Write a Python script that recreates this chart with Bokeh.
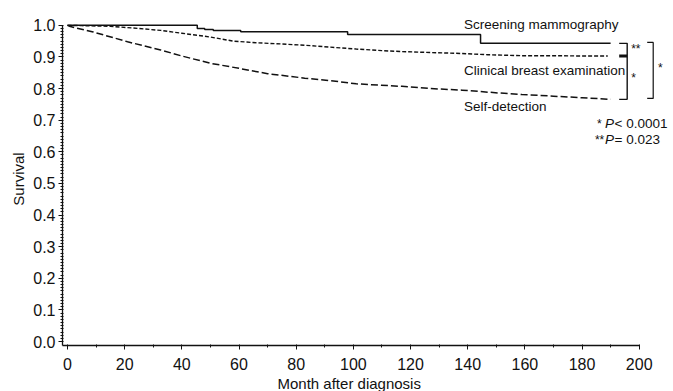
from bokeh.plotting import figure
from bokeh.models import Range1d, FixedTicker, PrintfTickFormatter, Label, Title
from bokeh.embed import file_html
from bokeh.resources import INLINE

# ---- data ----
months_screening = [0, 45.4, 48, 51, 60.6, 98, 144.5, 190]
surv_screening = [1.0, 0.99, 0.987, 0.984, 0.98, 0.971, 0.943, 0.943]

months_clinical = [0, 5, 15, 25, 32.6, 40, 50, 58, 66, 75, 83, 92, 101, 110, 117,
                   127, 138, 147, 159, 170, 180, 189]
surv_clinical = [1.0, 0.999, 0.997, 0.99, 0.984, 0.975, 0.963, 0.95, 0.945, 0.941,
                 0.937, 0.931, 0.925, 0.92, 0.917, 0.914, 0.911, 0.907, 0.904, 0.904,
                 0.903, 0.903]

months_self = [0, 1, 9, 21, 32.6, 40, 50, 60, 70, 83, 92, 101, 117, 127, 138, 151,
               159, 170, 180, 190]
surv_self = [1.0, 0.996, 0.979, 0.948, 0.922, 0.903, 0.880, 0.864, 0.847, 0.833,
             0.825, 0.815, 0.807, 0.800, 0.795, 0.786, 0.781, 0.776, 0.771, 0.766]

group_labels = ["Screening mammography", "Clinical breast examination", "Self-detection"]
x_ticks = list(range(0, 201, 20))
x_minor = list(range(0, 201, 10))
y_ticks = [round(i * 0.1, 1) for i in range(11)]
y_minor = [round(i * 0.01, 2) for i in range(101)]
pvalue_marks = ["*", "**"]
pvalue_texts = ["< 0.0001", "= 0.023"]
x_title = "Month after diagnosis"
y_title = "Survival"

FONT = "Liberation Sans"
INK = "#111111"

X0, X1 = -1.75, 212.0
Y0, Y1 = -0.0125, 1.0406
p = figure(width=673, height=391, output_backend="svg", toolbar_location=None,
           x_range=Range1d(X0, X1), y_range=Range1d(Y0, Y1),
           min_border_left=62, min_border_right=0, min_border_top=12,
           min_border_bottom=42)
p.outline_line_color = None
p.grid.visible = False
p.background_fill_color = "white"
p.border_fill_color = "white"

# curves
p.step(months_screening, surv_screening, mode="after", line_color=INK, line_width=1.5)
p.line(months_clinical, surv_clinical, line_color=INK, line_width=1.4, line_dash="4 2")
p.line(months_self, surv_self, line_color=INK, line_width=1.5, line_dash="7 3")

# brackets
top = surv_screening[-1]
mid = surv_clinical[-1]
bot = surv_self[-1]
p.line([193, 195.8, 195.8, 193], [top, top, bot, bot], line_color=INK, line_width=1.4)
p.segment(x0=[193], y0=[mid], x1=[195.8], y1=[mid], line_color=INK, line_width=3)
p.line([202.8, 204.9, 204.9, 202.8], [top + 0.003, top + 0.003, bot + 0.003, bot + 0.003],
       line_color=INK, line_width=1.2)

def lab(x, y, t, size="13.5px", style="normal", align="left"):
    p.add_layout(Label(x=x, y=y, text=t, text_font=FONT, text_font_size=size,
                       text_font_style=style, text_color=INK,
                       text_baseline="middle", text_align=align))

lab(138.7, 1.003, group_labels[0])
lab(138.7, 0.856, group_labels[1])
lab(138.7, 0.744, group_labels[2])

lab(197.2, 0.926, "**", size="12px")
lab(197.2, 0.832, "*", size="12px")
lab(206.6, 0.864, "*", size="12px")

lab(185.2, 0.688, pvalue_marks[0], size="12px")
lab(184.5, 0.636, pvalue_marks[1], size="12px")
lab(188.0, 0.69, "P", style="italic")
lab(188.0, 0.6375, "P", style="italic")
lab(191.4, 0.69, pvalue_texts[0])
lab(191.4, 0.6375, pvalue_texts[1])

# x-axis title, placed below the axis and shifted to match the reference
p.add_layout(Title(text=x_title, align="left", offset=215, standoff=0,
                   text_font=FONT, text_font_size="15px", text_font_style="normal",
                   text_color=INK), "below")

# axes
xa = p.xaxis[0]
xa.ticker = FixedTicker(ticks=x_ticks, minor_ticks=x_minor)
xa.bounds = (X0, 200)
ya = p.yaxis[0]
ya.ticker = FixedTicker(ticks=y_ticks, minor_ticks=y_minor)
ya.formatter = PrintfTickFormatter(format="%.1f")
ya.bounds = (Y0, 1.0)
ya.axis_label = y_title

for ax in (xa, ya):
    ax.axis_line_color = INK
    ax.axis_line_width = 1.3
    ax.major_tick_line_color = INK
    ax.minor_tick_line_color = INK
    ax.major_tick_out = 4
    ax.major_tick_in = 0
    ax.minor_tick_out = 2
    ax.minor_tick_in = 1
    ax.major_label_text_font = FONT
    ax.major_label_text_font_size = "16px"
    ax.major_label_text_color = INK
    ax.axis_label_text_font = FONT
    ax.axis_label_text_font_size = "15px"
    ax.axis_label_text_font_style = "normal"
    ax.axis_label_text_color = INK

xa.major_label_standoff = 8
ya.major_label_standoff = 3
ya.axis_label_standoff = 3

open("out.html", "w").write(file_html(p, INLINE))
